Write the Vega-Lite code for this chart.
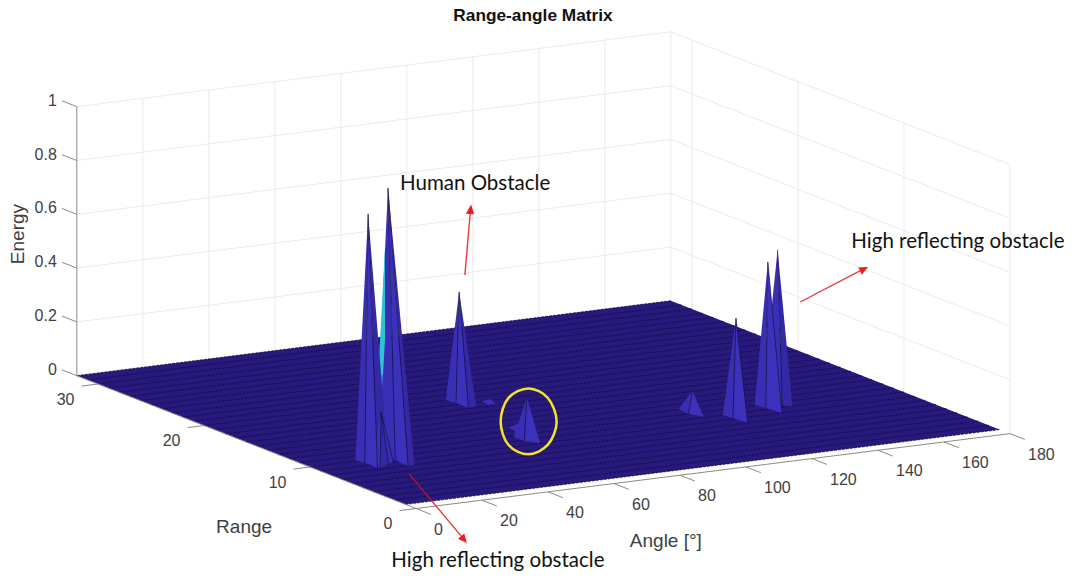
{"$schema":"https://vega.github.io/schema/vega-lite/v6.json","width":1072,"height":578,"padding":0,"autosize":"none","background":"white","config":{"view":{"stroke":null}},
"title":{"text":"Range-angle Matrix","font":"Liberation Sans","fontSize":17.3,"fontWeight":"bold","color":"#111111","anchor":"middle","offset":-24,"dx":-3},
"datasets":{
"segments":[
{"kind":"grid","angle":20,"range":32,"energy":0,"angle2":20,"range2":32,"energy2":1},{"kind":"grid","angle":40,"range":32,"energy":0,"angle2":40,"range2":32,"energy2":1},{"kind":"grid","angle":60,"range":32,"energy":0,"angle2":60,"range2":32,"energy2":1},{"kind":"grid","angle":80,"range":32,"energy":0,"angle2":80,"range2":32,"energy2":1},{"kind":"grid","angle":100,"range":32,"energy":0,"angle2":100,"range2":32,"energy2":1},{"kind":"grid","angle":120,"range":32,"energy":0,"angle2":120,"range2":32,"energy2":1},{"kind":"grid","angle":140,"range":32,"energy":0,"angle2":140,"range2":32,"energy2":1},{"kind":"grid","angle":160,"range":32,"energy":0,"angle2":160,"range2":32,"energy2":1},{"kind":"grid","angle":180,"range":32,"energy":0,"angle2":180,"range2":32,"energy2":1},
{"kind":"grid","angle":180,"range":30,"energy":0,"angle2":180,"range2":30,"energy2":1},{"kind":"grid","angle":180,"range":20,"energy":0,"angle2":180,"range2":20,"energy2":1},{"kind":"grid","angle":180,"range":10,"energy":0,"angle2":180,"range2":10,"energy2":1},{"kind":"grid","angle":180,"range":0,"energy":0,"angle2":180,"range2":0,"energy2":1},
{"kind":"grid","angle":0,"range":32,"energy":0.2,"angle2":180,"range2":32,"energy2":0.2},{"kind":"grid","angle":0,"range":32,"energy":0.4,"angle2":180,"range2":32,"energy2":0.4},{"kind":"grid","angle":0,"range":32,"energy":0.6,"angle2":180,"range2":32,"energy2":0.6},{"kind":"grid","angle":0,"range":32,"energy":0.8,"angle2":180,"range2":32,"energy2":0.8},{"kind":"grid","angle":0,"range":32,"energy":1,"angle2":180,"range2":32,"energy2":1},
{"kind":"grid","angle":180,"range":32,"energy":0.2,"angle2":180,"range2":0,"energy2":0.2},{"kind":"grid","angle":180,"range":32,"energy":0.4,"angle2":180,"range2":0,"energy2":0.4},{"kind":"grid","angle":180,"range":32,"energy":0.6,"angle2":180,"range2":0,"energy2":0.6},{"kind":"grid","angle":180,"range":32,"energy":0.8,"angle2":180,"range2":0,"energy2":0.8},{"kind":"grid","angle":180,"range":32,"energy":1,"angle2":180,"range2":0,"energy2":1},
{"kind":"axis","angle":0,"range":32,"energy":0,"angle2":0,"range2":32,"energy2":1},{"kind":"axis","angle":0,"range":0,"energy":0,"angle2":180,"range2":0,"energy2":0},{"kind":"axis","angle":0,"range":0,"energy":0,"angle2":0,"range2":32,"energy2":0},
{"kind":"axis","angle":0,"range":0,"energy":0,"angle2":0,"range2":-1.4,"energy2":0},{"kind":"axis","angle":20,"range":0,"energy":0,"angle2":20,"range2":-1.4,"energy2":0},{"kind":"axis","angle":40,"range":0,"energy":0,"angle2":40,"range2":-1.4,"energy2":0},{"kind":"axis","angle":60,"range":0,"energy":0,"angle2":60,"range2":-1.4,"energy2":0},{"kind":"axis","angle":80,"range":0,"energy":0,"angle2":80,"range2":-1.4,"energy2":0},{"kind":"axis","angle":100,"range":0,"energy":0,"angle2":100,"range2":-1.4,"energy2":0},{"kind":"axis","angle":120,"range":0,"energy":0,"angle2":120,"range2":-1.4,"energy2":0},{"kind":"axis","angle":140,"range":0,"energy":0,"angle2":140,"range2":-1.4,"energy2":0},{"kind":"axis","angle":160,"range":0,"energy":0,"angle2":160,"range2":-1.4,"energy2":0},{"kind":"axis","angle":180,"range":0,"energy":0,"angle2":180,"range2":-1.4,"energy2":0},
{"kind":"axis","angle":0,"range":0,"energy":0,"angle2":-5,"range2":0,"energy2":0},{"kind":"axis","angle":0,"range":10,"energy":0,"angle2":-5,"range2":10,"energy2":0},{"kind":"axis","angle":0,"range":20,"energy":0,"angle2":-5,"range2":20,"energy2":0},{"kind":"axis","angle":0,"range":30,"energy":0,"angle2":-5,"range2":30,"energy2":0},
{"kind":"axis","angle":0,"range":32,"energy":0,"angle2":0,"range2":33.4,"energy2":0},{"kind":"axis","angle":0,"range":32,"energy":0.2,"angle2":0,"range2":33.4,"energy2":0.2},{"kind":"axis","angle":0,"range":32,"energy":0.4,"angle2":0,"range2":33.4,"energy2":0.4},{"kind":"axis","angle":0,"range":32,"energy":0.6,"angle2":0,"range2":33.4,"energy2":0.6},{"kind":"axis","angle":0,"range":32,"energy":0.8,"angle2":0,"range2":33.4,"energy2":0.8},{"kind":"axis","angle":0,"range":32,"energy":1,"angle2":0,"range2":33.4,"energy2":1},
{"kind":"mesh","angle":0,"range":1,"energy":0,"angle2":180,"range2":1,"energy2":0},{"kind":"mesh","angle":0,"range":2,"energy":0,"angle2":180,"range2":2,"energy2":0},{"kind":"mesh","angle":0,"range":3,"energy":0,"angle2":180,"range2":3,"energy2":0},{"kind":"mesh","angle":0,"range":4,"energy":0,"angle2":180,"range2":4,"energy2":0},{"kind":"mesh","angle":0,"range":5,"energy":0,"angle2":180,"range2":5,"energy2":0},{"kind":"mesh","angle":0,"range":6,"energy":0,"angle2":180,"range2":6,"energy2":0},{"kind":"mesh","angle":0,"range":7,"energy":0,"angle2":180,"range2":7,"energy2":0},{"kind":"mesh","angle":0,"range":8,"energy":0,"angle2":180,"range2":8,"energy2":0},{"kind":"mesh","angle":0,"range":9,"energy":0,"angle2":180,"range2":9,"energy2":0},{"kind":"mesh","angle":0,"range":10,"energy":0,"angle2":180,"range2":10,"energy2":0},{"kind":"mesh","angle":0,"range":11,"energy":0,"angle2":180,"range2":11,"energy2":0},{"kind":"mesh","angle":0,"range":12,"energy":0,"angle2":180,"range2":12,"energy2":0},{"kind":"mesh","angle":0,"range":13,"energy":0,"angle2":180,"range2":13,"energy2":0},{"kind":"mesh","angle":0,"range":14,"energy":0,"angle2":180,"range2":14,"energy2":0},{"kind":"mesh","angle":0,"range":15,"energy":0,"angle2":180,"range2":15,"energy2":0},{"kind":"mesh","angle":0,"range":16,"energy":0,"angle2":180,"range2":16,"energy2":0},{"kind":"mesh","angle":0,"range":17,"energy":0,"angle2":180,"range2":17,"energy2":0},{"kind":"mesh","angle":0,"range":18,"energy":0,"angle2":180,"range2":18,"energy2":0},{"kind":"mesh","angle":0,"range":19,"energy":0,"angle2":180,"range2":19,"energy2":0},{"kind":"mesh","angle":0,"range":20,"energy":0,"angle2":180,"range2":20,"energy2":0},{"kind":"mesh","angle":0,"range":21,"energy":0,"angle2":180,"range2":21,"energy2":0},{"kind":"mesh","angle":0,"range":22,"energy":0,"angle2":180,"range2":22,"energy2":0},{"kind":"mesh","angle":0,"range":23,"energy":0,"angle2":180,"range2":23,"energy2":0},{"kind":"mesh","angle":0,"range":24,"energy":0,"angle2":180,"range2":24,"energy2":0},{"kind":"mesh","angle":0,"range":25,"energy":0,"angle2":180,"range2":25,"energy2":0},{"kind":"mesh","angle":0,"range":26,"energy":0,"angle2":180,"range2":26,"energy2":0},{"kind":"mesh","angle":0,"range":27,"energy":0,"angle2":180,"range2":27,"energy2":0},{"kind":"mesh","angle":0,"range":28,"energy":0,"angle2":180,"range2":28,"energy2":0},{"kind":"mesh","angle":0,"range":29,"energy":0,"angle2":180,"range2":29,"energy2":0},{"kind":"mesh","angle":0,"range":30,"energy":0,"angle2":180,"range2":30,"energy2":0},{"kind":"mesh","angle":0,"range":31,"energy":0,"angle2":180,"range2":31,"energy2":0},{"kind":"mesh","angle":0,"range":32,"energy":0,"angle2":180,"range2":32,"energy2":0},
{"kind":"edge","angle":149.4,"range":12.4,"energy":0.539,"angle2":144.1,"range2":10.3,"energy2":0},
{"kind":"edge","angle":144.2,"range":11.7,"energy":0.513,"angle2":139.1,"range2":10.3,"energy2":0},{"kind":"edge","angle":144.2,"range":11.7,"energy":0.513,"angle2":139.8,"range2":9,"energy2":0},
{"kind":"edge","angle":131,"range":10.6,"energy":0.342,"angle2":125.6,"range2":9.2,"energy2":0},{"kind":"edge","angle":131,"range":10.6,"energy":0.342,"angle2":126.2,"range2":8,"energy2":0},
{"kind":"edge","angle":123.9,"range":12.5,"energy":0.052,"angle2":117.9,"range2":11,"energy2":0},
{"kind":"edge","angle":75.7,"range":19.5,"energy":0.387,"angle2":70.9,"range2":18.3,"energy2":0},{"kind":"edge","angle":75.7,"range":19.5,"energy":0.387,"angle2":70.8,"range2":17.1,"energy2":0},
{"kind":"edge","angle":70.2,"range":11.4,"energy":0.13,"angle2":64.3,"range2":9.8,"energy2":0},
{"kind":"edge","angle":27.8,"range":11.3,"energy":0.974,"angle2":23.6,"range2":9.3,"energy2":0},{"kind":"edge","angle":27.8,"range":11.3,"energy":0.974,"angle2":23,"range2":7.9,"energy2":0},
{"kind":"edge","angle":22.1,"range":11.4,"energy":0.885,"angle2":15,"range2":9.5,"energy2":0},{"kind":"edge","angle":22.1,"range":11.4,"energy":0.885,"angle2":15,"range2":8.3,"energy2":0},
{"kind":"edge","angle":23.3,"range":10.55,"energy":0.16,"angle2":15.5,"range2":8.2,"energy2":0},{"kind":"edge","angle":23.3,"range":10.55,"energy":0.16,"angle2":20.2,"range2":8.9,"energy2":0},{"kind":"edge","angle":23.3,"range":10.55,"energy":0.16,"angle2":22,"range2":9,"energy2":0},
{"kind":"arrowDark","angle":100.7,"range":32,"energy":-0.521,"angle2":107.6,"range2":32,"energy2":-0.6323},
{"kind":"arrow","angle":107.6,"range":32,"energy":-0.6323,"angle2":116.5,"range2":32,"energy2":-0.7766},
{"kind":"arrow","angle":117.6,"range":32,"energy":0.1926,"angle2":119.2,"range2":32,"energy2":0.4167},
{"kind":"arrow","angle":219.2,"range":32,"energy":-0.065,"angle2":237.3,"range2":32,"energy2":0.0223}
],
"polys":[
{"poly":"floor","material":"floor","vertex":1,"angle":0,"range":1,"energy":0},{"poly":"floor","material":"floor","vertex":2,"angle":180,"range":1,"energy":0},{"poly":"floor","material":"floor","vertex":3,"angle":180,"range":32,"energy":0},{"poly":"floor","material":"floor","vertex":4,"angle":0,"range":32,"energy":0},
{"poly":"H1","material":"face1","vertex":1,"angle":149.4,"range":12.4,"energy":0.539},{"poly":"H1","material":"face1","vertex":2,"angle":142.8,"range":11.8,"energy":0},{"poly":"H1","material":"face1","vertex":3,"angle":144.1,"range":10.3,"energy":0},
{"poly":"H2","material":"face3","vertex":1,"angle":149.4,"range":12.4,"energy":0.539},{"poly":"H2","material":"face3","vertex":2,"angle":144.1,"range":10.3,"energy":0},{"poly":"H2","material":"face3","vertex":3,"angle":146.2,"range":10,"energy":0},
{"poly":"G1","material":"face1","vertex":1,"angle":144.2,"range":11.7,"energy":0.513},{"poly":"G1","material":"face1","vertex":2,"angle":138.3,"range":11.1,"energy":0},{"poly":"G1","material":"face1","vertex":3,"angle":139.1,"range":10.3,"energy":0},
{"poly":"G2","material":"face2","vertex":1,"angle":144.2,"range":11.7,"energy":0.513},{"poly":"G2","material":"face2","vertex":2,"angle":139.1,"range":10.3,"energy":0},{"poly":"G2","material":"face2","vertex":3,"angle":139.8,"range":9,"energy":0},
{"poly":"F1","material":"face1","vertex":1,"angle":131,"range":10.6,"energy":0.342},{"poly":"F1","material":"face1","vertex":2,"angle":125.1,"range":10,"energy":0},{"poly":"F1","material":"face1","vertex":3,"angle":125.6,"range":9.2,"energy":0},
{"poly":"F2","material":"face2","vertex":1,"angle":131,"range":10.6,"energy":0.342},{"poly":"F2","material":"face2","vertex":2,"angle":125.6,"range":9.2,"energy":0},{"poly":"F2","material":"face2","vertex":3,"angle":126.2,"range":8,"energy":0},
{"poly":"I1","material":"face1","vertex":1,"angle":123.9,"range":12.5,"energy":0.052},{"poly":"I1","material":"face1","vertex":2,"angle":118.5,"range":12.1,"energy":0},{"poly":"I1","material":"face1","vertex":3,"angle":117.9,"range":11,"energy":0},
{"poly":"I2","material":"face2","vertex":1,"angle":123.9,"range":12.5,"energy":0.052},{"poly":"I2","material":"face2","vertex":2,"angle":117.9,"range":11,"energy":0},{"poly":"I2","material":"face2","vertex":3,"angle":119.6,"range":10.1,"energy":0},
{"poly":"C1","material":"face1","vertex":1,"angle":75.7,"range":19.5,"energy":0.387},{"poly":"C1","material":"face1","vertex":2,"angle":70.4,"range":19.1,"energy":0},{"poly":"C1","material":"face1","vertex":3,"angle":70.9,"range":18.3,"energy":0},
{"poly":"C2","material":"face2","vertex":1,"angle":75.7,"range":19.5,"energy":0.387},{"poly":"C2","material":"face2","vertex":2,"angle":70.9,"range":18.3,"energy":0},{"poly":"C2","material":"face2","vertex":3,"angle":70.8,"range":17.1,"energy":0},
{"poly":"C3","material":"face3","vertex":1,"angle":75.7,"range":19.5,"energy":0.387},{"poly":"C3","material":"face3","vertex":2,"angle":70.8,"range":17.1,"energy":0},{"poly":"C3","material":"face3","vertex":3,"angle":73.8,"range":17.3,"energy":0},
{"poly":"D1","material":"face1","vertex":1,"angle":78.1,"range":18.1,"energy":0},{"poly":"D1","material":"face1","vertex":2,"angle":81.3,"range":18.2,"energy":0},{"poly":"D1","material":"face1","vertex":3,"angle":79.3,"range":17.2,"energy":0},{"poly":"D1","material":"face1","vertex":4,"angle":77.1,"range":17.2,"energy":0},
{"poly":"D2","material":"face2","vertex":1,"angle":81.3,"range":18.2,"energy":0},{"poly":"D2","material":"face2","vertex":2,"angle":77.5,"range":16.2,"energy":0},{"poly":"D2","material":"face2","vertex":3,"angle":79.3,"range":17.2,"energy":0},
{"poly":"E0","material":"face1","vertex":1,"angle":68.8,"range":12.7,"energy":0},{"poly":"E0","material":"face1","vertex":2,"angle":73.4,"range":13.2,"energy":0},{"poly":"E0","material":"face1","vertex":3,"angle":67.7,"range":11.6,"energy":0},
{"poly":"E1","material":"face1","vertex":1,"angle":70.2,"range":11.4,"energy":0.13},{"poly":"E1","material":"face1","vertex":2,"angle":64.3,"range":10.8,"energy":0},{"poly":"E1","material":"face1","vertex":3,"angle":64.3,"range":9.8,"energy":0},
{"poly":"E2","material":"face2","vertex":1,"angle":70.2,"range":11.4,"energy":0.13},{"poly":"E2","material":"face2","vertex":2,"angle":64.3,"range":9.8,"energy":0},{"poly":"E2","material":"face2","vertex":3,"angle":66.8,"range":9.1,"energy":0},
{"poly":"B1","material":"face1","vertex":1,"angle":27.8,"range":11.3,"energy":0.974},{"poly":"B1","material":"face1","vertex":2,"angle":23.7,"range":11.2,"energy":0},{"poly":"B1","material":"face1","vertex":3,"angle":23.6,"range":9.3,"energy":0},
{"poly":"B2","material":"face2","vertex":1,"angle":27.8,"range":11.3,"energy":0.974},{"poly":"B2","material":"face2","vertex":2,"angle":23.6,"range":9.3,"energy":0},{"poly":"B2","material":"face2","vertex":3,"angle":23,"range":7.9,"energy":0},
{"poly":"B3","material":"face3","vertex":1,"angle":27.8,"range":11.3,"energy":0.974},{"poly":"B3","material":"face3","vertex":2,"angle":23,"range":7.9,"energy":0},{"poly":"B3","material":"face3","vertex":3,"angle":25.2,"range":8,"energy":0},
{"poly":"K1","material":"cyan","vertex":1,"angle":26.9,"range":11.3,"energy":0.756},{"poly":"K1","material":"cyan","vertex":2,"angle":26.9,"range":11.3,"energy":0.411},{"poly":"K1","material":"cyan","vertex":3,"angle":26.3,"range":11.3,"energy":0.2814},{"poly":"K1","material":"cyan","vertex":4,"angle":24.8,"range":11.3,"energy":0.2836},{"poly":"K1","material":"cyan","vertex":5,"angle":25.4,"range":11.3,"energy":0.4126},
{"poly":"K2","material":"sky","vertex":1,"angle":24.8,"range":11.3,"energy":0.2836},{"poly":"K2","material":"sky","vertex":2,"angle":26.3,"range":11.3,"energy":0.2814},{"poly":"K2","material":"sky","vertex":3,"angle":25.4,"range":11.3,"energy":0.145},
{"poly":"A1","material":"face1","vertex":1,"angle":22.1,"range":11.4,"energy":0.885},{"poly":"A1","material":"face1","vertex":2,"angle":14.4,"range":10.2,"energy":0},{"poly":"A1","material":"face1","vertex":3,"angle":15,"range":9.5,"energy":0},
{"poly":"A2","material":"face2","vertex":1,"angle":22.1,"range":11.4,"energy":0.885},{"poly":"A2","material":"face2","vertex":2,"angle":15,"range":9.5,"energy":0},{"poly":"A2","material":"face2","vertex":3,"angle":15,"range":8.3,"energy":0},
{"poly":"A3","material":"face3","vertex":1,"angle":22.1,"range":11.4,"energy":0.885},{"poly":"A3","material":"face3","vertex":2,"angle":15,"range":8.3,"energy":0},{"poly":"A3","material":"face3","vertex":3,"angle":20.8,"range":9.1,"energy":0},
{"poly":"L1","material":"face2","vertex":1,"angle":23.3,"range":10.55,"energy":0.16},{"poly":"L1","material":"face2","vertex":2,"angle":16,"range":9.1,"energy":0},{"poly":"L1","material":"face2","vertex":3,"angle":15.5,"range":8.2,"energy":0},
{"poly":"L2","material":"face3","vertex":1,"angle":23.3,"range":10.55,"energy":0.16},{"poly":"L2","material":"face3","vertex":2,"angle":15.5,"range":8.2,"energy":0},{"poly":"L2","material":"face3","vertex":3,"angle":20.2,"range":8.9,"energy":0},
{"poly":"L3","material":"face1","vertex":1,"angle":23.3,"range":10.55,"energy":0.16},{"poly":"L3","material":"face1","vertex":2,"angle":20.2,"range":8.9,"energy":0},{"poly":"L3","material":"face1","vertex":3,"angle":22,"range":9,"energy":0}
],
"arrowheads":[
{"poly":"a1","vertex":1,"angle":119.5,"range":32,"energy":0.4517},{"poly":"a1","vertex":2,"angle":117.9,"range":32,"energy":0.4201},{"poly":"a1","vertex":3,"angle":120.4,"range":32,"energy":0.4138},
{"poly":"a2","vertex":1,"angle":239.8,"range":32,"energy":0.0331},{"poly":"a2","vertex":2,"angle":237.9,"range":32,"energy":0.0078},{"poly":"a2","vertex":3,"angle":236.8,"range":32,"energy":0.0364},
{"poly":"a3","vertex":1,"angle":118.2,"range":32,"energy":-0.8049},{"poly":"a3","vertex":2,"angle":117.4,"range":32,"energy":-0.768},{"poly":"a3","vertex":3,"angle":115.5,"range":32,"energy":-0.7848}
],
"marker":[
{"vertex":1,"angle":83.1,"range":12.6,"energy":0},{"vertex":2,"angle":67.6,"range":8.6,"energy":0},{"vertex":3,"angle":57.4,"range":7.3,"energy":0},{"vertex":4,"angle":58.5,"range":9.5,"energy":0},{"vertex":5,"angle":70.3,"range":13.9,"energy":0},{"vertex":6,"angle":85.8,"range":18,"energy":0},{"vertex":7,"angle":96.1,"range":19.3,"energy":0},{"vertex":8,"angle":94.9,"range":17.1,"energy":0}
],
"tickLabels":[
{"axis":"angle","label":"0","angle":0,"range":0,"energy":0},{"axis":"angle","label":"20","angle":20,"range":0,"energy":0},{"axis":"angle","label":"40","angle":40,"range":0,"energy":0},{"axis":"angle","label":"60","angle":60,"range":0,"energy":0},{"axis":"angle","label":"80","angle":80,"range":0,"energy":0},{"axis":"angle","label":"100","angle":100,"range":0,"energy":0},{"axis":"angle","label":"120","angle":120,"range":0,"energy":0},{"axis":"angle","label":"140","angle":140,"range":0,"energy":0},{"axis":"angle","label":"160","angle":160,"range":0,"energy":0},{"axis":"angle","label":"180","angle":180,"range":0,"energy":0},
{"axis":"range","label":"0","angle":0,"range":0,"energy":0},{"axis":"range","label":"10","angle":0,"range":10,"energy":0},{"axis":"range","label":"20","angle":0,"range":20,"energy":0},{"axis":"range","label":"30","angle":0,"range":30,"energy":0},
{"axis":"energy","label":"0","angle":0,"range":32,"energy":0},{"axis":"energy","label":"0.2","angle":0,"range":32,"energy":0.2},{"axis":"energy","label":"0.4","angle":0,"range":32,"energy":0.4},{"axis":"energy","label":"0.6","angle":0,"range":32,"energy":0.6},{"axis":"energy","label":"0.8","angle":0,"range":32,"energy":0.8},{"axis":"energy","label":"1","angle":0,"range":32,"energy":1}
],
"notes":[
{"kind":"axisTitle","label":"Range","angle":50.7,"range":32,"energy":-0.64},
{"kind":"axisTitle","label":"Angle [°]","angle":178.5,"range":32,"energy":-0.891},
{"kind":"callout","label":"Human Obstacle","angle":120.7,"range":32,"energy":0.526},
{"kind":"callout","label":"High reflecting obstacle","angle":267,"range":32,"energy":0.084},
{"kind":"callout","label":"High reflecting obstacle","angle":127.6,"range":32,"energy":-0.886},
{"kind":"energyTitle","label":"Energy","angle":-17.8,"range":32,"energy":0.554}
]},
"encoding":{
"x":{"field":"sx","type":"quantitative","scale":{"domain":[0,1072],"nice":false,"zero":false},"axis":null},
"y":{"field":"sy","type":"quantitative","scale":{"domain":[578,0],"nice":false,"zero":false},"axis":null}},
"layer":[
{"data":{"name":"segments"},"transform":[{"filter":"datum.kind=='grid'"},{"calculate":"416+3.3*datum.angle-10.6*datum.range","as":"sx"},{"calculate":"508.5-0.416*datum.angle-4.15*datum.range-269*datum.energy","as":"sy"},{"calculate":"416+3.3*datum.angle2-10.6*datum.range2","as":"sx2"},{"calculate":"508.5-0.416*datum.angle2-4.15*datum.range2-269*datum.energy2","as":"sy2"}],"mark":{"type":"rule","stroke":"#ebebeb","strokeWidth":1},"encoding":{"x2":{"field":"sx2"},"y2":{"field":"sy2"}}},
{"data":{"name":"polys"},"transform":[{"filter":"datum.material=='floor'"},{"calculate":"416+3.3*datum.angle-10.6*datum.range","as":"sx"},{"calculate":"508.5-0.416*datum.angle-4.15*datum.range-269*datum.energy","as":"sy"}],"mark":{"type":"line","fill":"#281a7c","strokeWidth":0},"encoding":{"detail":{"field":"poly"},"order":{"field":"vertex","type":"quantitative"}}},
{"data":{"name":"segments"},"transform":[{"filter":"datum.kind=='mesh'"},{"calculate":"416+3.3*datum.angle-10.6*datum.range","as":"sx"},{"calculate":"508.5-0.416*datum.angle-4.15*datum.range-269*datum.energy","as":"sy"},{"calculate":"416+3.3*datum.angle2-10.6*datum.range2","as":"sx2"},{"calculate":"508.5-0.416*datum.angle2-4.15*datum.range2-269*datum.energy2","as":"sy2"}],"mark":{"type":"rule","stroke":"#140d4c","strokeWidth":1.2,"strokeDash":[3,1],"opacity":0.75},"encoding":{"x2":{"field":"sx2"},"y2":{"field":"sy2"}}},
{"data":{"name":"segments"},"transform":[{"filter":"datum.kind=='axis'"},{"calculate":"416+3.3*datum.angle-10.6*datum.range","as":"sx"},{"calculate":"508.5-0.416*datum.angle-4.15*datum.range-269*datum.energy","as":"sy"},{"calculate":"416+3.3*datum.angle2-10.6*datum.range2","as":"sx2"},{"calculate":"508.5-0.416*datum.angle2-4.15*datum.range2-269*datum.energy2","as":"sy2"}],"mark":{"type":"rule","stroke":"#8a8a8a","strokeWidth":1},"encoding":{"x2":{"field":"sx2"},"y2":{"field":"sy2"}}},
{"data":{"name":"polys"},"transform":[{"filter":"datum.material!='floor'"},{"calculate":"416+3.3*datum.angle-10.6*datum.range","as":"sx"},{"calculate":"508.5-0.416*datum.angle-4.15*datum.range-269*datum.energy","as":"sy"}],"mark":{"type":"line","strokeWidth":0},"encoding":{"fill":{"field":"material","type":"nominal","legend":null,"scale":{"domain":["face1","face2","face3","cyan","sky"],"range":["#3a2fb4","#3c31ba","#3428a6","#2bc4d2","#3f86ea"]}},"detail":{"field":"poly"},"order":{"field":"vertex","type":"quantitative"}}},
{"data":{"name":"segments"},"transform":[{"filter":"datum.kind=='edge'"},{"calculate":"416+3.3*datum.angle-10.6*datum.range","as":"sx"},{"calculate":"508.5-0.416*datum.angle-4.15*datum.range-269*datum.energy","as":"sy"},{"calculate":"416+3.3*datum.angle2-10.6*datum.range2","as":"sx2"},{"calculate":"508.5-0.416*datum.angle2-4.15*datum.range2-269*datum.energy2","as":"sy2"}],"mark":{"type":"rule","stroke":"#14103c","strokeWidth":0.8,"opacity":0.85},"encoding":{"x2":{"field":"sx2"},"y2":{"field":"sy2"}}},
{"data":{"name":"segments"},"transform":[{"filter":"datum.kind=='arrow'||datum.kind=='arrowDark'"},{"calculate":"416+3.3*datum.angle-10.6*datum.range","as":"sx"},{"calculate":"508.5-0.416*datum.angle-4.15*datum.range-269*datum.energy","as":"sy"},{"calculate":"416+3.3*datum.angle2-10.6*datum.range2","as":"sx2"},{"calculate":"508.5-0.416*datum.angle2-4.15*datum.range2-269*datum.energy2","as":"sy2"}],"mark":{"type":"rule","strokeWidth":1.4},"encoding":{"x2":{"field":"sx2"},"y2":{"field":"sy2"},"color":{"field":"kind","type":"nominal","legend":null,"scale":{"domain":["arrow","arrowDark"],"range":["#e83a3a","#a81438"]}}}},
{"data":{"name":"arrowheads"},"transform":[{"calculate":"416+3.3*datum.angle-10.6*datum.range","as":"sx"},{"calculate":"508.5-0.416*datum.angle-4.15*datum.range-269*datum.energy","as":"sy"}],"mark":{"type":"line","fill":"#ee1c1c","strokeWidth":0},"encoding":{"detail":{"field":"poly"},"order":{"field":"vertex","type":"quantitative"}}},
{"data":{"name":"marker"},"transform":[{"calculate":"416+3.3*datum.angle-10.6*datum.range","as":"sx"},{"calculate":"508.5-0.416*datum.angle-4.15*datum.range-269*datum.energy","as":"sy"}],"mark":{"type":"line","interpolate":"cardinal-closed","stroke":"#f2e528","strokeWidth":2.5},"encoding":{"order":{"field":"vertex","type":"quantitative"}}},
{"data":{"name":"tickLabels"},"transform":[{"filter":"datum.axis=='angle'"},{"calculate":"416+3.3*datum.angle-10.6*datum.range","as":"sx"},{"calculate":"508.5-0.416*datum.angle-4.15*datum.range-269*datum.energy","as":"sy"}],"mark":{"type":"text","align":"left","baseline":"middle","dx":18,"dy":21,"font":"Liberation Sans","fontSize":16,"fill":"#404040"},"encoding":{"text":{"field":"label"}}},
{"data":{"name":"tickLabels"},"transform":[{"filter":"datum.axis=='range'"},{"calculate":"416+3.3*datum.angle-10.6*datum.range","as":"sx"},{"calculate":"508.5-0.416*datum.angle-4.15*datum.range-269*datum.energy","as":"sy"}],"mark":{"type":"text","align":"right","baseline":"middle","dx":-23.5,"dy":15.5,"font":"Liberation Sans","fontSize":16,"fill":"#404040"},"encoding":{"text":{"field":"label"}}},
{"data":{"name":"tickLabels"},"transform":[{"filter":"datum.axis=='energy'"},{"calculate":"416+3.3*datum.angle-10.6*datum.range","as":"sx"},{"calculate":"508.5-0.416*datum.angle-4.15*datum.range-269*datum.energy","as":"sy"}],"mark":{"type":"text","align":"right","baseline":"middle","dx":-20,"dy":-6,"font":"Liberation Sans","fontSize":16,"fill":"#404040"},"encoding":{"text":{"field":"label"}}},
{"data":{"name":"notes"},"transform":[{"filter":"datum.kind=='axisTitle'"},{"calculate":"416+3.3*datum.angle-10.6*datum.range","as":"sx"},{"calculate":"508.5-0.416*datum.angle-4.15*datum.range-269*datum.energy","as":"sy"}],"mark":{"type":"text","align":"center","baseline":"middle","font":"Liberation Sans","fontSize":19,"fill":"#404040"},"encoding":{"text":{"field":"label"}}},
{"data":{"name":"notes"},"transform":[{"filter":"datum.kind=='energyTitle'"},{"calculate":"416+3.3*datum.angle-10.6*datum.range","as":"sx"},{"calculate":"508.5-0.416*datum.angle-4.15*datum.range-269*datum.energy","as":"sy"}],"mark":{"type":"text","align":"center","baseline":"middle","angle":270,"font":"Liberation Sans","fontSize":19,"fill":"#404040"},"encoding":{"text":{"field":"label"}}},
{"data":{"name":"notes"},"transform":[{"filter":"datum.kind=='callout'"},{"calculate":"416+3.3*datum.angle-10.6*datum.range","as":"sx"},{"calculate":"508.5-0.416*datum.angle-4.15*datum.range-269*datum.energy","as":"sy"}],"mark":{"type":"text","align":"center","baseline":"middle","font":"Lato","fontSize":20.5,"fill":"#111111"},"encoding":{"text":{"field":"label"}}}
]}
